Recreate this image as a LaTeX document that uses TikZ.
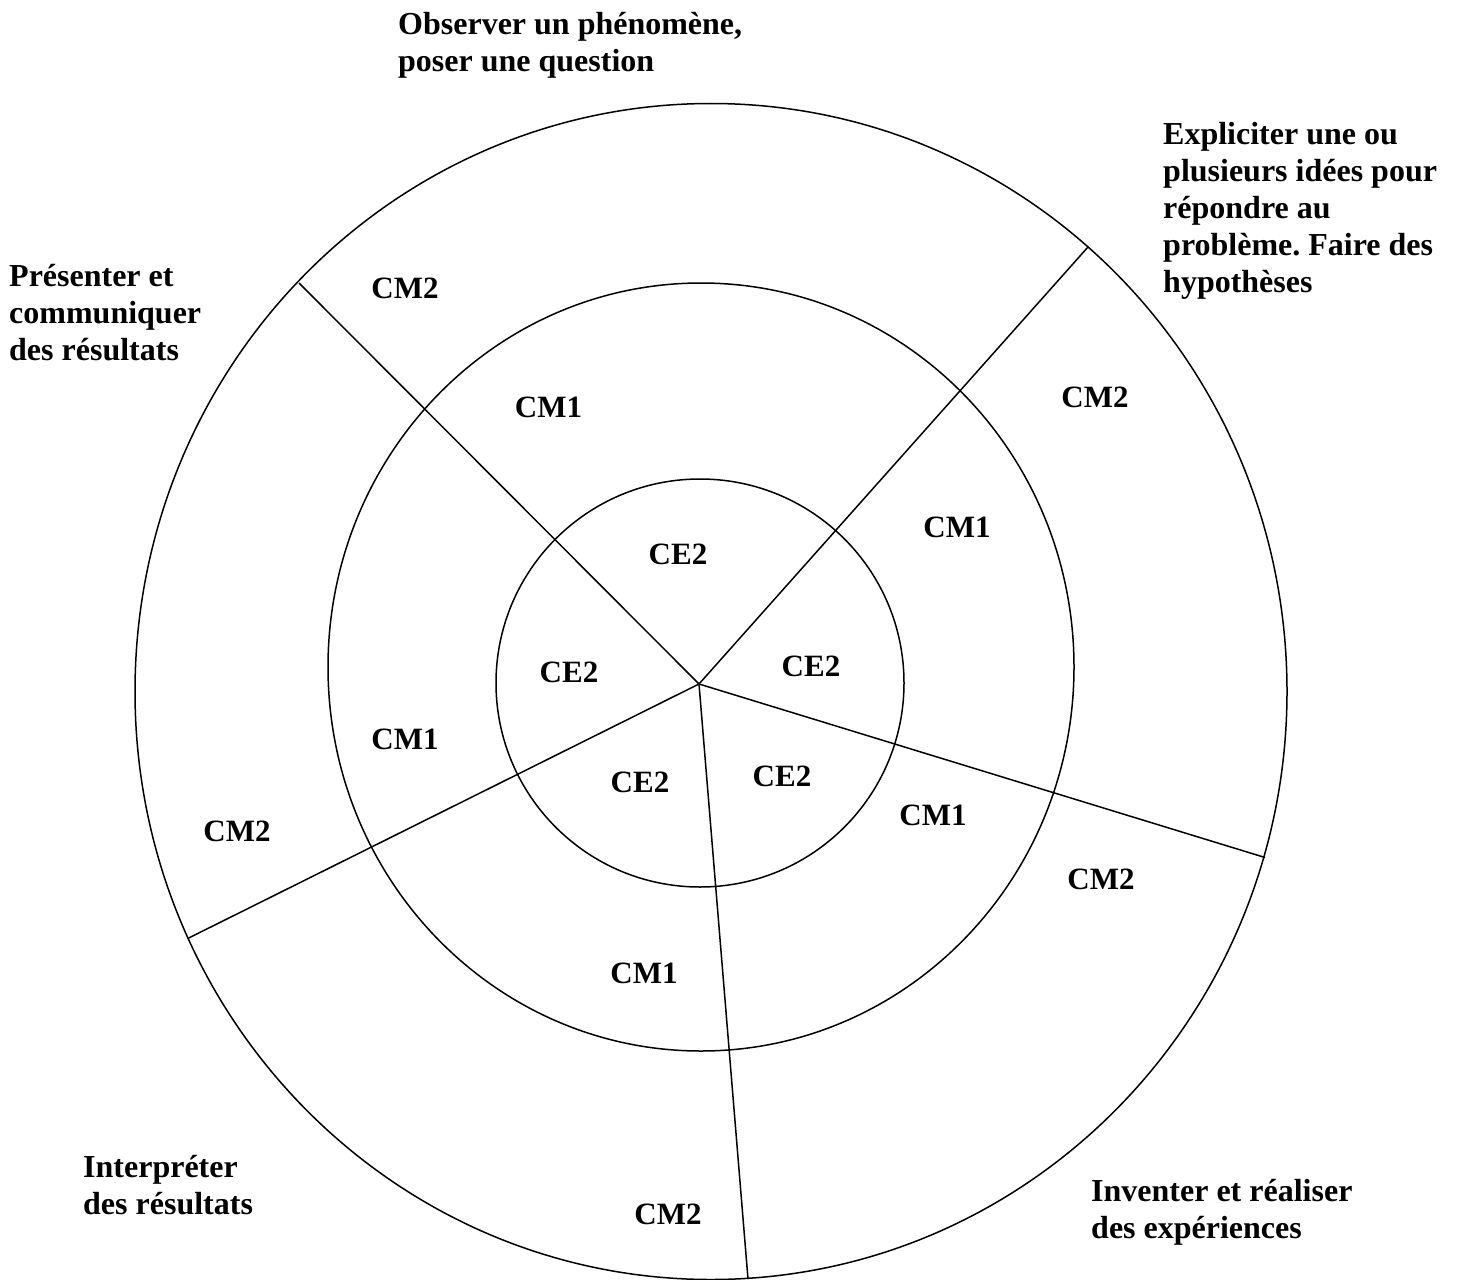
\documentclass[tikz,border=0pt]{standalone}
\usepackage{fontspec}
\setmainfont{Liberation Serif}
\frenchspacing
\begin{document}
\begin{tikzpicture}[x=1pt,y=-1pt,
  ring/.style={draw=black,line width=1.5pt},
  spoke/.style={draw=black,line width=1.5pt},
  lbl/.style={inner sep=0pt,font=\bfseries\fontsize{31}{35.5}\selectfont},
  title/.style={inner sep=0pt,align=left,anchor=north west,font=\bfseries\frenchspacing\fontsize{32}{37}\selectfont}]
\useasboundingbox (0,0) rectangle (1458,1279);
% rings
\draw[ring] (711,691.5) ellipse [x radius=576, y radius=588];
\draw[ring] (701,667) ellipse [x radius=373, y radius=384];
\draw[ring] (700,683) circle [radius=204];
% spokes
\coordinate (c) at (699,684);
\coordinate (e1) at (299,283);
\coordinate (e2) at (1088,247);
\coordinate (e3) at (1265,857.5);
\coordinate (e4) at (748,1279);
\coordinate (e5) at (188.7,938);
\draw[spoke] (c) -- (e1);
\draw[spoke] (c) -- (e2);
\draw[spoke] (c) -- (e3);
\draw[spoke] (c) -- (e4);
\draw[spoke] (c) -- (e5);
% sector labels
\node[lbl] (cm2a) at (405,288) {CM2};
\node[lbl] (cm1a) at (548.5,407) {CM1};
\node[lbl] (cm2b) at (1095,397) {CM2};
\node[lbl] (cm1b) at (957,527) {CM1};
\node[lbl] (ce2a) at (678,554) {CE2};
\node[lbl] (ce2b) at (569,672.6) {CE2};
\node[lbl] (ce2c) at (811,666) {CE2};
\node[lbl] (cm1c) at (405,739) {CM1};
\node[lbl] (ce2d) at (640,782) {CE2};
\node[lbl] (ce2e) at (782,776) {CE2};
\node[lbl] (cm1d) at (933,815.6) {CM1};
\node[lbl] (cm2c) at (237,831) {CM2};
\node[lbl] (cm2d) at (1101,879) {CM2};
\node[lbl] (cm1e) at (644,973) {CM1};
\node[lbl] (cm2e) at (668,1214) {CM2};
% step titles
\node[title] (t1) at (398,12) {Observer un phénomène,\\poser une question};
\node[title] (t2) at (1163,122) {Expliciter une ou\\plusieurs idées pour\\répondre au\\problème. Faire des\\hypothèses};
\node[title] (t3) at (9,264) {Présenter et\\communiquer\\des résultats};
\node[title] (t4) at (83,1155) {Interpréter\\des résultats};
\node[title] (t5) at (1091,1179) {Inventer et réaliser\\des expériences};
\end{tikzpicture}
\end{document}
